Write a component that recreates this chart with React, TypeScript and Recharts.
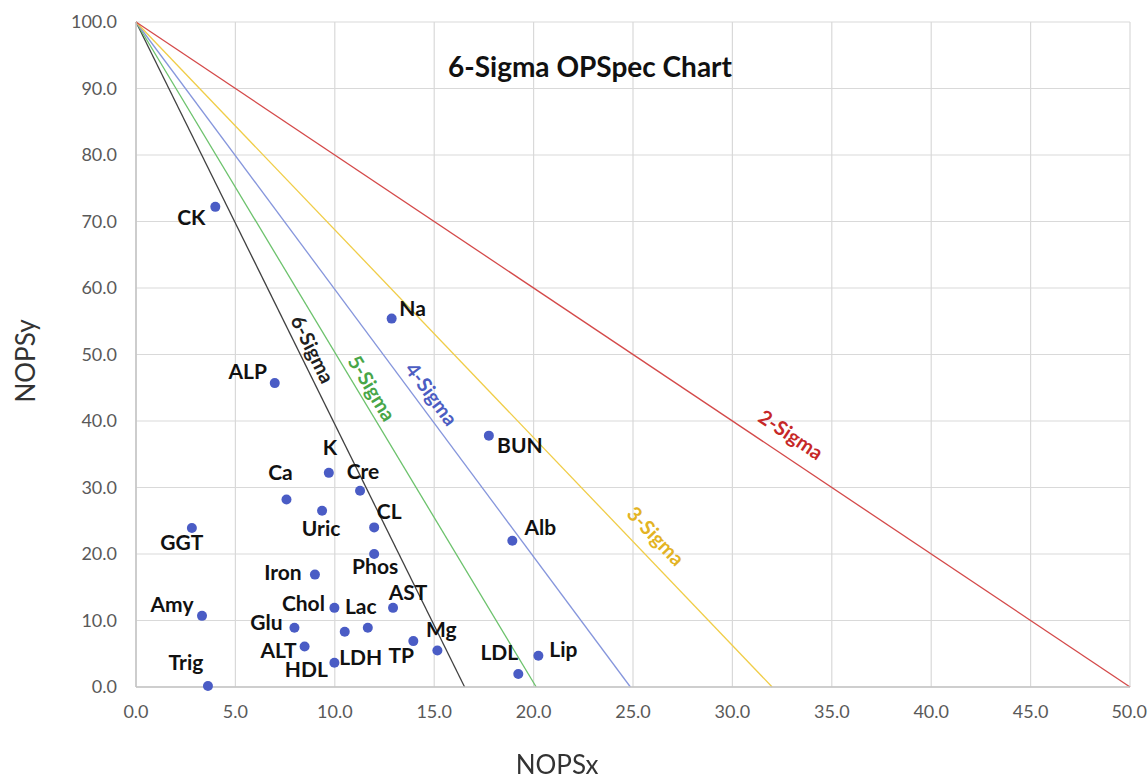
import React from 'react';
import { ScatterChart, Scatter, XAxis, YAxis, CartesianGrid, ReferenceLine } from 'recharts';

// analytes
const analytes = ['CK', 'Na', 'ALP', 'BUN', 'K', 'Ca', 'Cre', 'Uric', 'GGT', 'CL', 'Alb', 'Phos', 'Iron', 'Amy', 'Chol', 'AST', 'Glu', 'Lac', 'LDH', 'ALT', 'Mg', 'TP', 'Lip', 'HDL', 'LDL', 'Trig'];
const nopsX = [3.99, 12.86, 6.98, 17.75, 9.7, 7.57, 11.27, 9.36, 2.81, 11.98, 18.93, 11.98, 9.0, 3.32, 9.98, 12.93, 7.97, 11.66, 10.5, 8.48, 15.16, 13.95, 20.24, 9.98, 19.23, 3.62];
const nopsY = [72.2, 55.4, 45.7, 37.8, 32.2, 28.2, 29.5, 26.5, 23.9, 24.0, 22.0, 20.0, 16.9, 10.7, 11.9, 11.9, 8.9, 8.9, 8.3, 6.1, 5.5, 6.9, 4.7, 3.65, 1.95, 0.15];

// sigma limit lines: all start at (0, 100) and hit the x axis here
const sigmaNames = ['6-Sigma', '5-Sigma', '4-Sigma', '3-Sigma', '2-Sigma'];
const sigmaIntercepts = [16.53, 20.13, 24.87, 32.0, 50];

const xTicks = [0, 5, 10, 15, 20, 25, 30, 35, 40, 45, 50];
const yTicks = [0, 10, 20, 30, 40, 50, 60, 70, 80, 90, 100];

// styling / layout
const W = 1148;
const H = 779;
const PLOT_W = 994;
const PLOT_H = 665;
const FONT = 'Lato, "Open Sans", sans-serif';
const sigmaLine = ['#404040', '#6cc26c', '#8696dc', '#f0cd48', '#d44a4a'];
const sigmaText = ['#1f1f1f', '#48a648', '#4c5dc2', '#e3b324', '#c62828'];
const sigmaLabelAt = [0.499, 0.439, 0.427, 0.206, 0.353];
const sigmaLabelGap = [14, 14, 16, 21, 22];

const labelOffset: Record<string, [number, number]> = {
  CK: [-24, 10], ALP: [-27, -13], Na: [21, -11], BUN: [31, 9], K: [1, -26],
  Ca: [-6, -28], Cre: [3, -20], Uric: [-1, 17], GGT: [-10, 13], CL: [15, -17],
  Phos: [1, 11], Iron: [-32, -3], Amy: [-30, -12], Chol: [-31, -5], AST: [15, -16],
  Glu: [-28, -6], Lac: [-7, -22], LDH: [16, 25], ALT: [-26, 3], HDL: [-28, 6],
  Trig: [-22, -25], TP: [-12, 13], Mg: [4, -22], Alb: [28, -14], LDL: [-19, -23],
  Lip: [25, -7],
};

const points = analytes.map((name, i) => ({ name, x: nopsX[i], y: nopsY[i] }));
const sigmaLabels = sigmaNames.map((name, i) => ({
  name,
  idx: i,
  x: sigmaIntercepts[i] * (1 - sigmaLabelAt[i]),
  y: 100 * sigmaLabelAt[i],
}));

const Dot = (props: any) => {
  const { cx, cy, payload } = props;
  const off = labelOffset[payload.name] || [0, -20];
  return (
    <g>
      <circle cx={cx} cy={cy} r={5} fill="#4a5cc5" />
      <text
        x={cx + off[0]}
        y={cy + off[1]}
        textAnchor="middle"
        dominantBaseline="central"
        fontFamily={FONT}
        fontWeight="bold"
        fontSize={21}
        fill="#111"
      >
        {payload.name}
      </text>
    </g>
  );
};

const SigmaLabel = (props: any) => {
  const { cx, cy, payload } = props;
  const i = payload.idx;
  const a = Math.atan2(PLOT_H, (PLOT_W / 50) * sigmaIntercepts[i]);
  const d = sigmaLabelGap[i];
  const x = cx + d * Math.sin(a);
  const y = cy - d * Math.cos(a);
  return (
    <text
      x={x}
      y={y}
      textAnchor="middle"
      dominantBaseline="central"
      transform={`rotate(${(a * 180) / Math.PI}, ${x}, ${y})`}
      fontFamily={FONT}
      fontWeight="bold"
      fontSize={20}
      fill={sigmaText[i]}
    >
      {payload.name}
    </text>
  );
};

// x tick; the last one is pulled in so it stays inside the window
const XTick = (props: any) => {
  const { x, y, payload, index } = props;
  const last = index === xTicks.length - 1;
  return (
    <text
      x={last ? x + 17 : x}
      y={y}
      dy="0.71em"
      textAnchor={last ? 'end' : 'middle'}
      fill="#595959"
      fontSize={18}
      fontFamily={FONT}
    >
      {Number(payload.value).toFixed(1)}
    </text>
  );
};

export default function App() {
  const tick = { fill: '#595959', fontSize: 18, fontFamily: FONT };
  return (
    <div style={{ position: 'fixed', left: 0, top: 0, width: W, height: H, fontFamily: FONT, background: '#fff' }}>
      <ScatterChart
        width={W}
        height={H}
        margin={{ top: 22, right: 18, bottom: 52, left: 76 }}
      >
        <CartesianGrid stroke="#d9d9d9" strokeWidth={1.2} />
        <XAxis
          type="number"
          dataKey="x"
          domain={[0, 50]}
          ticks={xTicks}
          tick={XTick}
          tickLine={false}
          tickMargin={12}
          axisLine={{ stroke: '#c4c4c4', strokeWidth: 1.5 }}
          height={40}
          interval={0}
        />
        <YAxis
          type="number"
          dataKey="y"
          domain={[0, 100]}
          ticks={yTicks}
          tickFormatter={(v: number) => v.toFixed(1)}
          tick={tick}
          tickLine={false}
          tickMargin={13}
          axisLine={{ stroke: '#c4c4c4', strokeWidth: 1.5 }}
          width={60}
          interval={0}
        />
        {sigmaNames.map((name, i) => (
          <ReferenceLine
            key={name}
            segment={[{ x: 0, y: 100 }, { x: sigmaIntercepts[i], y: 0 }]}
            stroke={sigmaLine[i]}
            strokeWidth={1.3}
            ifOverflow="visible"
          />
        ))}
        <Scatter data={sigmaLabels} shape={SigmaLabel} isAnimationActive={false} />
        <Scatter data={points} shape={Dot} isAnimationActive={false} />
      </ScatterChart>
      <div
        style={{
          position: 'absolute', left: 590, top: 66, transform: 'translate(-50%, -50%)',
          fontSize: 28, lineHeight: '30px', fontWeight: 'bold', color: '#111', whiteSpace: 'nowrap',
        }}
      >
        6-Sigma OPSpec Chart
      </div>
      <div
        style={{
          position: 'absolute', left: 557, top: 764, transform: 'translate(-50%, -50%)',
          fontSize: 26, lineHeight: '22px', color: '#333', whiteSpace: 'nowrap',
        }}
      >
        NOPSx
      </div>
      <div
        style={{
          position: 'absolute', left: 25, top: 361, transform: 'translate(-50%, -50%) rotate(-90deg)',
          fontSize: 26, lineHeight: '22px', color: '#333', whiteSpace: 'nowrap',
        }}
      >
        NOPSy
      </div>
    </div>
  );
}
